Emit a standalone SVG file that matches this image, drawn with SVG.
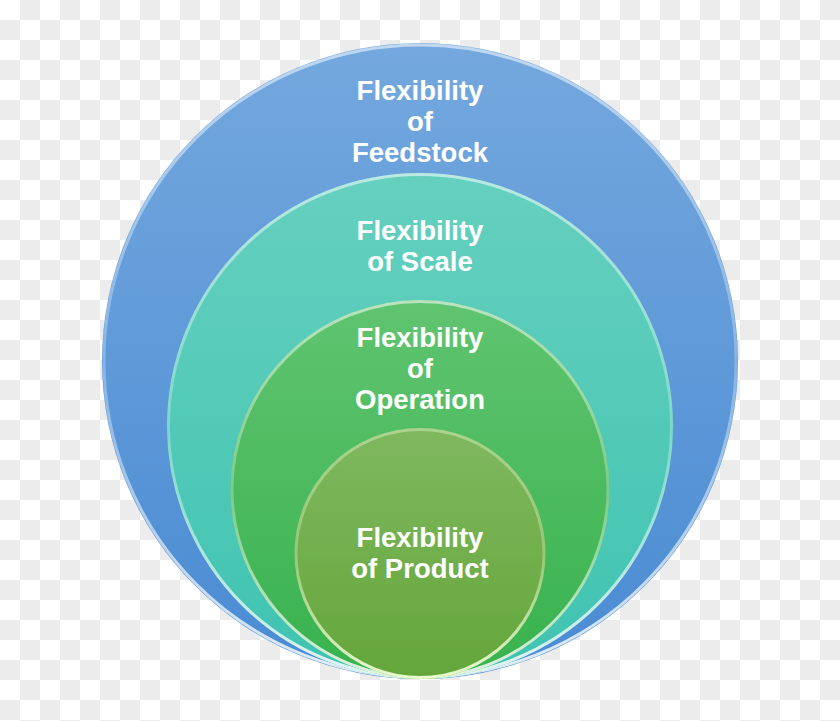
<svg xmlns="http://www.w3.org/2000/svg" width="840" height="721" viewBox="0 0 840 721">
  <defs>
    <pattern id="checker" x="0" y="0" width="40" height="40" patternUnits="userSpaceOnUse">
      <rect width="40" height="40" fill="#ffffff"/>
      <rect x="20" y="0" width="20" height="20" fill="#ececec"/>
      <rect x="0" y="20" width="20" height="20" fill="#ececec"/>
    </pattern>
    <linearGradient id="gBlue" x1="0" y1="0" x2="0" y2="1">
      <stop offset="0" stop-color="#74a8de"/>
      <stop offset="1" stop-color="#4a8bd3"/>
    </linearGradient>
    <linearGradient id="gTeal" x1="0" y1="0" x2="0" y2="1">
      <stop offset="0" stop-color="#66d0bf"/>
      <stop offset="1" stop-color="#3fc3b1"/>
    </linearGradient>
    <linearGradient id="gGreen" x1="0" y1="0" x2="0" y2="1">
      <stop offset="0" stop-color="#60c470"/>
      <stop offset="1" stop-color="#38b24e"/>
    </linearGradient>
    <linearGradient id="gOlive" x1="0" y1="0" x2="0" y2="1">
      <stop offset="0" stop-color="#80b860"/>
      <stop offset="1" stop-color="#64a63a"/>
    </linearGradient>
    <linearGradient id="rim" x1="0" y1="0" x2="0" y2="1">
      <stop offset="0" stop-color="#ffffff" stop-opacity="0.55"/>
      <stop offset="0.5" stop-color="#ffffff" stop-opacity="0.25"/>
      <stop offset="1" stop-color="#ffffff" stop-opacity="0.85"/>
    </linearGradient>
    <linearGradient id="rimGreen" x1="0" y1="0" x2="0" y2="1">
      <stop offset="0" stop-color="#e8ffd0" stop-opacity="0.4"/>
      <stop offset="0.5" stop-color="#e8ffd0" stop-opacity="0.3"/>
      <stop offset="1" stop-color="#f0ffd8" stop-opacity="0.95"/>
    </linearGradient>
  </defs>
  <style>
    .lbl { font-family: "Liberation Sans", Arial, sans-serif; font-weight: bold; font-size: 27.5px; fill: #ffffff; text-anchor: middle; }
    .rim { fill: none; stroke: url(#rim); stroke-width: 3; }
    .rimg { fill: none; stroke: url(#rimGreen); stroke-width: 3; }
  </style>
  <rect width="840" height="721" fill="url(#checker)"/>

  <g id="node-feedstock">
    <circle cx="420" cy="361" r="318" fill="url(#gBlue)"/>
    <circle cx="420" cy="361" r="316" class="rim"/>
    <text class="lbl" x="420" y="100">Flexibility</text>
    <text class="lbl" x="420" y="131">of</text>
    <text class="lbl" x="420" y="162">Feedstock</text>
  </g>

  <g id="node-scale">
    <circle cx="420" cy="426" r="253" fill="url(#gTeal)"/>
    <circle cx="420" cy="426" r="251.5" class="rim"/>
    <text class="lbl" x="420" y="240">Flexibility</text>
    <text class="lbl" x="420" y="271">of Scale</text>
  </g>

  <g id="node-operation">
    <circle cx="420" cy="489.5" r="189.5" fill="url(#gGreen)"/>
    <circle cx="420" cy="489.5" r="188" class="rim"/>
    <text class="lbl" x="420" y="347">Flexibility</text>
    <text class="lbl" x="420" y="378">of</text>
    <text class="lbl" x="420" y="409">Operation</text>
  </g>

  <g id="node-product">
    <circle cx="420" cy="553.5" r="125.5" fill="url(#gOlive)"/>
    <circle cx="420" cy="553.5" r="124" class="rimg"/>
    <text class="lbl" x="420" y="547">Flexibility</text>
    <text class="lbl" x="420" y="578">of Product</text>
  </g>
</svg>
